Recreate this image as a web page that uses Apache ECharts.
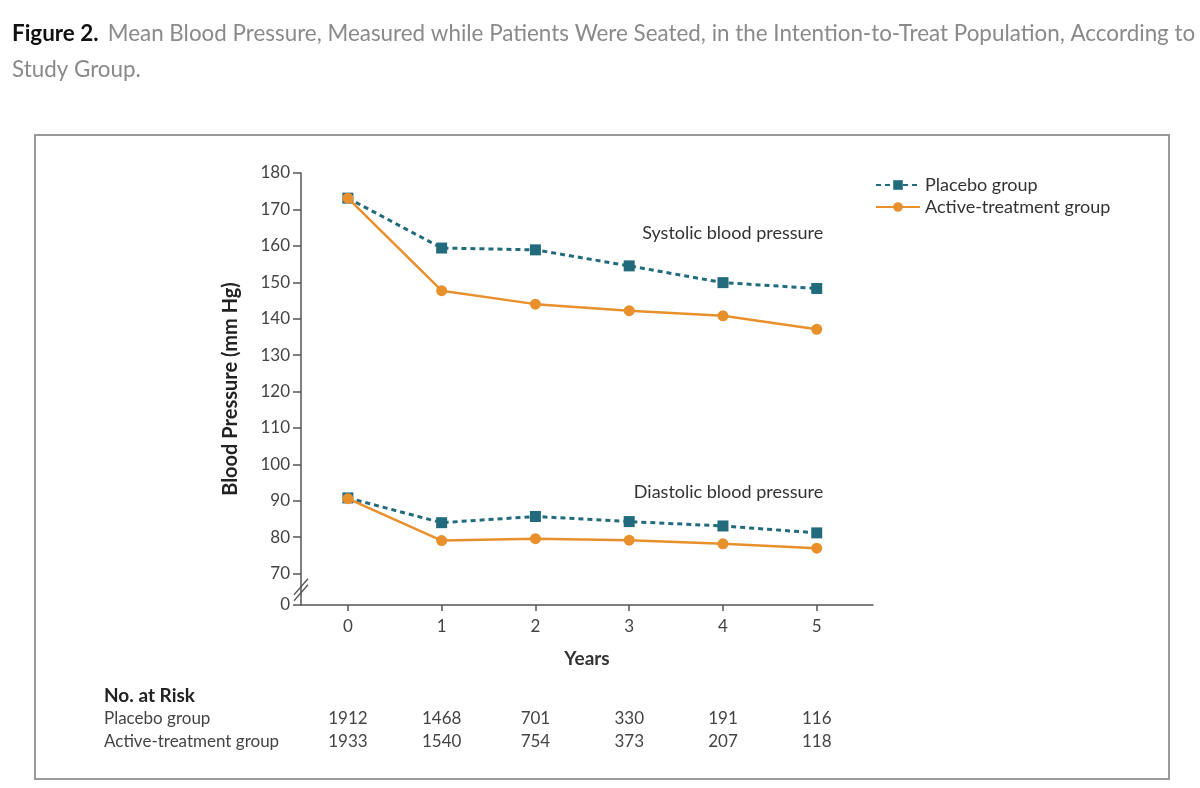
<!DOCTYPE html>
<html>
<head>
<meta charset="utf-8">
<script src="https://cdn.jsdelivr.net/npm/echarts@6/dist/echarts.min.js"></script>
<style>
  html, body { margin: 0; padding: 0; background: #fff; }
  #chart { width: 1200px; height: 788px; }
</style>
</head>
<body>
<div id="chart"></div>
<script>
// ── Data ──
const years = [0, 1, 2, 3, 4, 5];
const placeboSystolic  = [173.1, 159.4, 158.9, 154.5, 149.9, 148.3];
const activeSystolic   = [173.1, 147.7, 144.0, 142.2, 140.8, 137.1];
const placeboDiastolic = [90.8, 84.0, 85.7, 84.3, 83.1, 81.2];
const activeDiastolic  = [90.6, 79.1, 79.6, 79.2, 78.2, 77.0];

const riskPlacebo = [1912, 1468, 701, 330, 191, 116];
const riskActive  = [1933, 1540, 754, 373, 207, 118];

// broken y axis: the "0" tick sits just below 70
const yTicks = [70, 80, 90, 100, 110, 120, 130, 140, 150, 160, 170, 180];
const AXIS_FLOOR = 61.4;

const TEAL = '#226b7c';
const ORANGE = '#e8902c';
const AXIS = '#555';
const FONT = 'Lato, "Open Sans", sans-serif';

const pts = vals => years.map((x, i) => [x, vals[i]]);

const chart = echarts.init(document.getElementById('chart'));

const baseX = {
  type: 'value', min: -0.5, max: 5.6,
  splitLine: { show: false },
};

function placeboSeries(vals) {
  return {
    name: 'Placebo group', type: 'line', data: pts(vals),
    symbol: 'rect', symbolSize: 11, z: 2,
    itemStyle: { color: TEAL },
    lineStyle: { color: TEAL, width: 3, type: [5, 4] },
  };
}
function activeSeries(vals) {
  return {
    name: 'Active-treatment group', type: 'line', data: pts(vals),
    symbol: 'circle', symbolSize: 11, z: 3,
    itemStyle: { color: ORANGE },
    lineStyle: { color: ORANGE, width: 2.5 },
  };
}

// No. at Risk rows are drawn as label-only x axes so they line up with the years
const riskAxis = (counts, offset) => ({
  ...baseX,
  position: 'bottom', offset,
  axisLine: { show: false, onZero: false }, axisTick: { show: false },
  axisLabel: {
    customValues: years, margin: 0, fontSize: 17, color: '#444', fontFamily: FONT,
    formatter: v => String(counts[years.indexOf(v)]),
  },
});

chart.setOption({
  animation: false,
  title: {
    left: 12, top: 16, padding: 0,
    text: '{b|Figure 2.}  {g|Mean Blood Pressure, Measured while Patients Were Seated, in the Intention-to-Treat Population, According to}\n{g|Study Group.}',
    textStyle: {
      fontFamily: FONT, lineHeight: 36, fontWeight: 'normal',
      rich: {
        b: { fontSize: 22.4, fontWeight: 'bold', color: '#111', fontFamily: FONT, lineHeight: 36 },
        g: { fontSize: 22.4, fontWeight: 'normal', color: '#8a8a8a', fontFamily: FONT, lineHeight: 36 },
      },
    },
  },
  legend: {
    orient: 'vertical', left: 870, top: 171, itemGap: 4,
    itemWidth: 44, itemHeight: 12,
    data: ['Placebo group', 'Active-treatment group'],
    textStyle: { fontSize: 18, color: '#333', fontFamily: FONT },
  },
  grid: { left: 301, right: 327, top: 173, bottom: 183 },
  xAxis: [
    {
      ...baseX,
      name: 'Years', nameLocation: 'middle', nameGap: 44,
      nameTextStyle: { fontSize: 19, fontWeight: 'bold', color: '#333', fontFamily: FONT },
      axisLine: { onZero: false, lineStyle: { color: AXIS, width: 1.5 } },
      axisTick: { customValues: years, length: 6, lineStyle: { color: AXIS, width: 1.5 } },
      axisLabel: { customValues: years, margin: 13, fontSize: 17, color: '#444', fontFamily: FONT },
    },
    riskAxis(riskPlacebo, 105),
    riskAxis(riskActive, 128),
  ],
  yAxis: {
    type: 'value', min: AXIS_FLOOR, max: 180,
    name: 'Blood Pressure (mm Hg)', nameLocation: 'middle', nameGap: 60,
    nameTextStyle: { fontSize: 20, fontWeight: 'bold', color: '#222', fontFamily: FONT },
    splitLine: { show: false },
    axisLine: { show: true, onZero: false, lineStyle: { color: AXIS, width: 1.5 } },
    axisTick: { show: true, length: 8, customValues: [AXIS_FLOOR, ...yTicks], lineStyle: { color: AXIS, width: 1.5 } },
    axisLabel: {
      customValues: [AXIS_FLOOR, ...yTicks], margin: 11, fontSize: 17, color: '#444', fontFamily: FONT,
      formatter: v => (v === AXIS_FLOOR ? '0' : String(v)),
    },
  },
  series: [
    placeboSeries(placeboSystolic),
    activeSeries(activeSystolic),
    placeboSeries(placeboDiastolic),
    activeSeries(activeDiastolic),
  ],
});

// ── Decorations: frame, break marks, annotations, risk table labels ──
const brk = chart.convertToPixel({ xAxisIndex: 0, yAxisIndex: 0 }, [-0.5, 65.6]);
const slash = dy => ({
  type: 'line', silent: true,
  shape: { x1: brk[0] - 7, y1: brk[1] + 8 + dy, x2: brk[0] + 7, y2: brk[1] - 8 + dy },
  style: { stroke: AXIS, lineWidth: 1.3 },
});
const sysLbl = chart.convertToPixel({ xAxisIndex: 0, yAxisIndex: 0 }, [5.07, 163.5]);
const diaLbl = chart.convertToPixel({ xAxisIndex: 0, yAxisIndex: 0 }, [5.07, 92.3]);
const txt = (x, y, text, extra) => ({
  type: 'text', silent: true, x, y,
  style: { text, fontSize: 18, fill: '#333', fontFamily: FONT, textVerticalAlign: 'middle', ...extra },
});

chart.setOption({
  graphic: [
    { type: 'rect', silent: true, shape: { x: 35, y: 135, width: 1134, height: 644 },
      style: { fill: 'none', stroke: '#9a9a9a', lineWidth: 2 } },
    { type: 'rect', silent: true, shape: { x: brk[0] - 3, y: brk[1] - 4, width: 6, height: 8 },
      style: { fill: '#fff' } },
    slash(-3), slash(3),
    txt(sysLbl[0], sysLbl[1], 'Systolic blood pressure', { textAlign: 'right' }),
    txt(diaLbl[0], diaLbl[1], 'Diastolic blood pressure', { textAlign: 'right' }),
    txt(104, 696, 'No. at Risk', { fontWeight: 'bold', fill: '#222', fontSize: 19 }),
    txt(104, 719, 'Placebo group', { fill: '#444', fontSize: 17 }),
    txt(104, 742, 'Active-treatment group', { fill: '#444', fontSize: 17 }),
  ],
});
</script>
</body>
</html>
